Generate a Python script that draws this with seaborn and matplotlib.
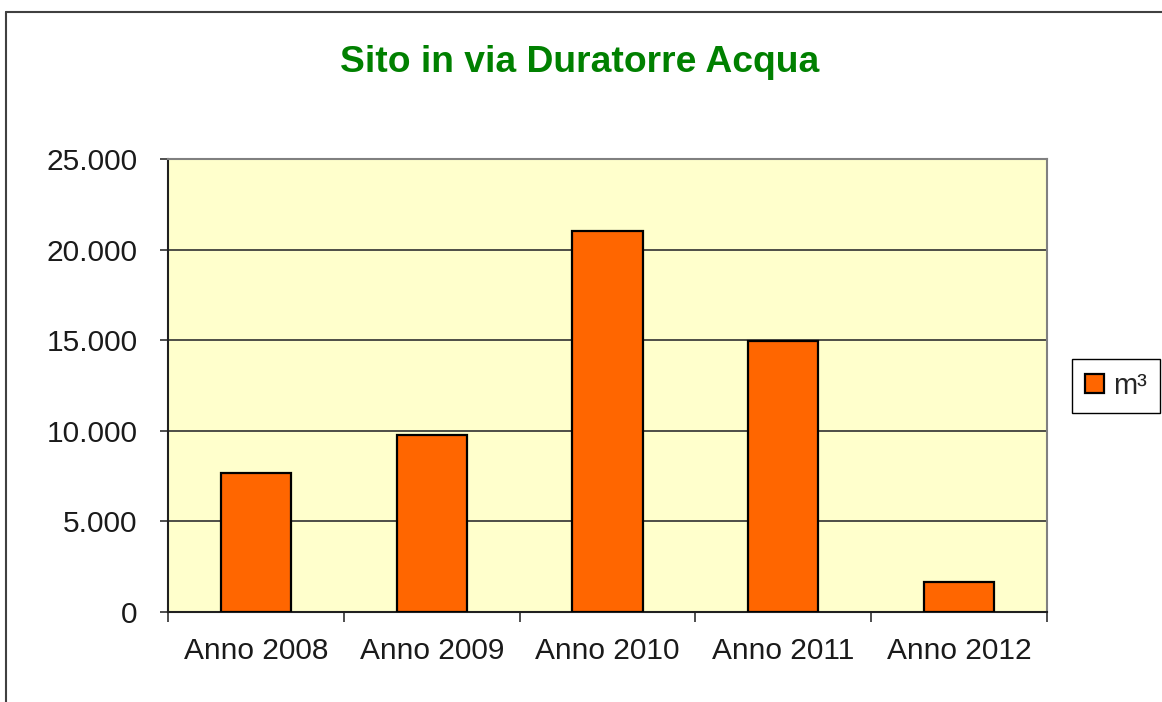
import numpy as np
import pandas as pd
import matplotlib
matplotlib.use("Agg")
import matplotlib.pyplot as plt
import seaborn as sns
from matplotlib.lines import Line2D
from matplotlib.ticker import FuncFormatter, FixedLocator

# data
anni = ["Anno 2008", "Anno 2009", "Anno 2010", "Anno 2011", "Anno 2012"]
consumi = [7690, 9790, 21040, 14950, 1680]
serie = ["m³"] * len(anni)
y_ticks = [0, 5000, 10000, 15000, 20000, 25000]

df = pd.DataFrame({"anno": anni, "valore": consumi, "serie": serie})

sns.set_theme(style="white")
plt.rcParams["font.family"] = ["Liberation Sans", "DejaVu Sans"]

fig = plt.figure(figsize=(11.62, 7.02), dpi=100)
ax = fig.add_axes([168 / 1162, 90 / 702, 879 / 1162, 453 / 702])
ax.set_facecolor("#FFFFCC")

sns.barplot(data=df, x="anno", y="valore", hue="serie", dodge=False,
            palette={"m³": "#FF6600"}, saturation=1, edgecolor="black", linewidth=1.6,
            width=0.4, ax=ax, zorder=3)

ax.set_xlim(-0.5, 4.5)
ax.set_ylim(0, 25000)
ax.set_yticks(y_ticks)
ax.yaxis.set_major_formatter(FuncFormatter(lambda v, p: f"{int(v):,}".replace(",", ".")))
ax.grid(axis="y", color="#303030", linewidth=1.2, zorder=0)
ax.set_axisbelow(True)

# category separators as outward ticks on the x axis
ax.xaxis.set_minor_locator(FixedLocator(np.arange(-0.5, 5, 1)))
ax.tick_params(axis="x", which="major", length=0, pad=18, labelsize=21.5, colors="#1a1a1a")
ax.tick_params(axis="x", which="minor", bottom=True, length=7, width=1.2, color="#303030")
ax.tick_params(axis="y", which="major", left=True, length=6, width=1.2, color="#303030",
               pad=16, labelsize=21.5, labelcolor="#1a1a1a")
ax.set_xlabel("")
ax.set_ylabel("")

for s in ["top", "right"]:
    ax.spines[s].set_color("#808080")
    ax.spines[s].set_linewidth(1.5)
for s in ["left", "bottom"]:
    ax.spines[s].set_color("#202020")
    ax.spines[s].set_linewidth(1.5)

ax.legend(loc="center", bbox_to_anchor=(1116 / 1162, 1 - 386 / 702),
          bbox_transform=fig.transFigure, fontsize=21, frameon=True, fancybox=False,
          edgecolor="black", handlelength=0.65, handleheight=0.65, handletextpad=0.3,
          borderpad=0.45, framealpha=1)
ax.get_legend().get_frame().set_linewidth(1.0)

fig.text(580 / 1162, 1 - 62 / 702, "Sito in via Duratorre Acqua", ha="center", va="center",
         fontsize=26.8, fontweight="bold", color="#008000")

# outer chart frame
fig.add_artist(Line2D([6 / 1162, 6 / 1162], [0, 1 - 12 / 702], transform=fig.transFigure,
                      color="#404040", linewidth=1.5))
fig.add_artist(Line2D([6 / 1162, 1], [1 - 12 / 702, 1 - 12 / 702], transform=fig.transFigure,
                      color="#404040", linewidth=1.5))

fig.savefig("out.png", dpi=100)
